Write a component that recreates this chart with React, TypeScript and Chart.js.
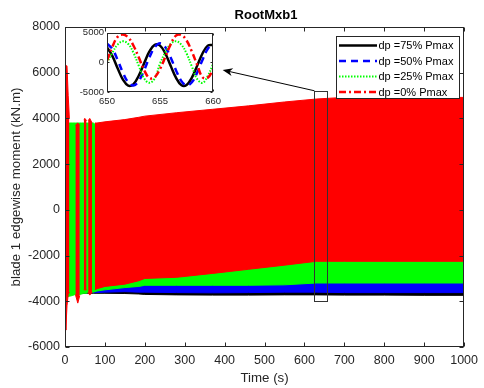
import React, { useEffect, useRef } from "react";
import { Chart, registerables } from "chart.js";
Chart.register(...registerables);

const FONT = "'Liberation Sans', Arial, Helvetica, sans-serif";
const AXIS = "#262626";

const TITLE = "RootMxb1";
const Y_LABEL = "blade 1 edgewise moment (kN.m)";
const X_LABEL = "Time (s)";
const SERIES_LABELS = ["dp =75% Pmax", "dp =50% Pmax", "dp =25% Pmax", "dp =0% Pmax"];
const SERIES_COLORS = ["#000000", "#0000ff", "#00ff00", "#ff0000"];

// Envelopes (upper / lower extent) of each dense oscillating series.
// null = the red series does not reach the outer band there (early transient columns).
const envT = [0, 2, 5, 8, 11, 18, 26, 32, 37, 42, 47, 50, 54, 56, 58, 62, 68, 71, 75, 80, 100, 150, 185, 200, 280, 370, 460, 550, 630, 700, 800, 900, 1000];
const redUpper = [6000, 6300, 6300, 5000, 4000, null, 3700, 3800, 3700, null, 3950, 4000, 3900, null, 3900, 4000, 3800, null, 3800, 3800, 3850, 3950, 4050, 4100, 4250, 4400, 4550, 4720, 4850, 4920, 4920, 4920, 4920];
const redLower = [-4000, -5260, -4200, -3700, -3600, null, -3700, -4080, -3750, null, -3500, -3500, -3500, null, -3600, -3730, -3600, null, -3500, -3450, -3350, -3250, -3100, -3000, -2950, -2780, -2600, -2420, -2250, -2250, -2250, -2250, -2250];
const greenUpper = [3000, 3800, 3800, 3800, 3800, 3800, 3800, 3800, 3800, 3800, 3800, 3800, 3800, 3800, 3800, 3800, 3800, 3800, 3750, 3750, 3750, 3800, 3900, 3950, 4100, 4250, 4400, 4550, 4650, 4700, 4700, 4700, 4700];
const greenLower = [-3000, -3800, -3820, -3800, -3780, -3750, -3700, -3700, -3700, -3680, -3650, -3650, -3650, -3620, -3620, -3620, -3600, -3600, -3580, -3550, -3500, -3400, -3350, -3300, -3300, -3300, -3300, -3280, -3200, -3200, -3200, -3200, -3200];
const blueUpper = [3000, 3600, 3600, 3600, 3600, 3600, 3600, 3600, 3600, 3600, 3600, 3600, 3600, 3600, 3600, 3600, 3600, 3600, 3600, 3600, 3550, 3600, 3700, 3750, 3900, 4000, 4100, 4200, 4300, 4350, 4350, 4350, 4350];
const blueLower = [-3000, -3700, -3750, -3700, -3650, -3620, -3620, -3620, -3620, -3620, -3620, -3620, -3620, -3620, -3620, -3620, -3620, -3620, -3620, -3620, -3600, -3580, -3600, -3600, -3620, -3630, -3620, -3600, -3600, -3620, -3620, -3620, -3620];
const blackUpper = [2500, 3400, 3500, 3450, 3400, 3400, 3400, 3400, 3400, 3400, 3400, 3400, 3400, 3400, 3400, 3400, 3400, 3400, 3400, 3400, 3350, 3400, 3500, 3550, 3700, 3800, 3900, 4000, 4100, 4150, 4150, 4150, 4150];
const blackLower = [-3000, -3650, -3700, -3680, -3650, -3650, -3650, -3650, -3650, -3650, -3650, -3650, -3650, -3650, -3650, -3650, -3650, -3650, -3650, -3650, -3650, -3660, -3680, -3700, -3720, -3730, -3730, -3720, -3720, -3730, -3730, -3740, -3740];

// Zoomed inset, 650 s to 660 s
const insetT = [650, 650.5, 651, 651.5, 652, 652.5, 653, 653.5, 654, 654.5, 655, 655.5, 656, 656.5, 657, 657.5, 658, 658.5, 659, 659.5, 660];
const insetBlack = [2500, 1100, -1000, -2900, -3920, -3660, -2220, -140, 1830, 2950, 2820, 1490, -570, -2580, -3820, -3820, -2580, -570, 1490, 2820, 2950];
const insetBlue = [3170, 2270, 410, -1730, -3360, -3890, -3120, -1320, 830, 2550, 3200, 2550, 830, -1320, -3120, -3890, -3360, -1730, 410, 2270, 3170];
const insetGreen = [-100, 1600, 3000, 3550, 3100, 1600, -600, -2700, -3450, -2700, -200, 1700, 3100, 3550, 3000, 1500, -700, -2800, -3450, -2300, -300];
const insetRed = [300, 2600, 4300, 4680, 4200, 2800, 800, -1300, -2650, -2500, -1100, 900, 3000, 4500, 4600, 3700, 1800, -400, -2500, -2600, -1200];

// Annotation (data units): zoom rectangle and arrow toward the inset
const ZOOM_RECT = { t0: 625, t1: 657, v0: -3990, v1: 5210 };
const ARROW_TIP = { t: 395, v: 6120 };
const ARROW_TAIL = { t: 625, v: 5210 };

const DASHES: number[][] = [[], [7, 5], [1.5, 1.5], [7, 3, 2, 3]];
const WIDTHS = [2.5, 2.5, 2, 2.5];

function drawFrame(chart: any, len: number) {
  const { ctx, chartArea: a, scales } = chart;
  ctx.save();
  ctx.strokeStyle = AXIS;
  ctx.lineWidth = 1;
  ctx.setLineDash([]);
  const L = Math.round(a.left) + 0.5, R = Math.round(a.right) - 0.5;
  const T = Math.round(a.top) + 0.5, B = Math.round(a.bottom) - 0.5;
  ctx.strokeRect(L, T, R - L, B - T);
  ctx.beginPath();
  scales.x.ticks.forEach((tk: any) => {
    const p = Math.round(scales.x.getPixelForValue(tk.value)) + 0.5;
    ctx.moveTo(p, B); ctx.lineTo(p, B - len);
    ctx.moveTo(p, T); ctx.lineTo(p, T + len);
  });
  scales.y.ticks.forEach((tk: any) => {
    const p = Math.round(scales.y.getPixelForValue(tk.value)) + 0.5;
    ctx.moveTo(L, p); ctx.lineTo(L + len, p);
    ctx.moveTo(R, p); ctx.lineTo(R - len, p);
  });
  ctx.stroke();
  ctx.restore();
}

const mainPlugin = {
  id: "mainDecor",
  beforeDraw(chart: any) {
    const { ctx, width, height } = chart;
    ctx.save();
    ctx.fillStyle = "#ffffff";
    ctx.fillRect(0, 0, width, height);
    ctx.restore();
  },
  afterDatasetsDraw(chart: any) {
    drawFrame(chart, 4);
    const { ctx, scales } = chart;
    const xs = scales.x, ys = scales.y;
    ctx.save();
    ctx.strokeStyle = "#333333";
    ctx.lineWidth = 1;
    const rx0 = Math.round(xs.getPixelForValue(ZOOM_RECT.t0)) + 0.5;
    const rx1 = Math.round(xs.getPixelForValue(ZOOM_RECT.t1)) + 0.5;
    const ry0 = Math.round(ys.getPixelForValue(ZOOM_RECT.v1)) + 0.5;
    const ry1 = Math.round(ys.getPixelForValue(ZOOM_RECT.v0)) + 0.5;
    ctx.strokeRect(rx0, ry0, rx1 - rx0, ry1 - ry0);
    const tx = xs.getPixelForValue(ARROW_TAIL.t), ty = ys.getPixelForValue(ARROW_TAIL.v);
    const hx = xs.getPixelForValue(ARROW_TIP.t), hy = ys.getPixelForValue(ARROW_TIP.v);
    const ang = Math.atan2(hy - ty, hx - tx);
    ctx.strokeStyle = "#000";
    ctx.beginPath();
    ctx.moveTo(tx, ty);
    ctx.lineTo(hx - 6 * Math.cos(ang), hy - 6 * Math.sin(ang));
    ctx.stroke();
    ctx.fillStyle = "#000";
    ctx.beginPath();
    ctx.moveTo(hx, hy);
    ctx.lineTo(hx - 10 * Math.cos(ang) + 4 * Math.sin(ang), hy - 10 * Math.sin(ang) - 4 * Math.cos(ang));
    ctx.lineTo(hx - 7 * Math.cos(ang), hy - 7 * Math.sin(ang));
    ctx.lineTo(hx - 10 * Math.cos(ang) - 4 * Math.sin(ang), hy - 10 * Math.sin(ang) + 4 * Math.cos(ang));
    ctx.closePath();
    ctx.fill();
    ctx.restore();
  },
  afterDraw(chart: any) {
    const { ctx } = chart;
    ctx.save();
    ctx.fillStyle = "#000";
    ctx.font = `bold 13px ${FONT}`;
    ctx.textAlign = "center";
    ctx.textBaseline = "middle";
    ctx.fillText(TITLE, 266, 15);
    ctx.fillStyle = "#fff";
    ctx.fillRect(336.5, 36.5, 123, 62);
    ctx.strokeStyle = AXIS;
    ctx.lineWidth = 1;
    ctx.strokeRect(336.5, 36.5, 123, 62);
    ctx.font = `11px ${FONT}`;
    ctx.textAlign = "left";
    SERIES_LABELS.forEach((lab, i) => {
      const y = 45.5 + i * 15.5;
      ctx.save();
      ctx.strokeStyle = SERIES_COLORS[i];
      ctx.lineWidth = WIDTHS[i];
      ctx.setLineDash(DASHES[i]);
      ctx.beginPath();
      ctx.moveTo(339, y);
      ctx.lineTo(377, y);
      ctx.stroke();
      ctx.restore();
      ctx.fillStyle = "#000";
      ctx.fillText(lab, 378.5, y + 0.5);
    });
    ctx.restore();
  },
};

const insetPlugin = {
  id: "insetDecor",
  beforeDatasetsDraw(chart: any) {
    const { ctx, chartArea: a } = chart;
    ctx.save();
    ctx.fillStyle = "#fff";
    ctx.fillRect(a.left, a.top, a.right - a.left, a.bottom - a.top);
    ctx.restore();
  },
  afterDatasetsDraw(chart: any) {
    drawFrame(chart, 2);
  },
};

export default function App() {
  const mainRef = useRef<HTMLCanvasElement>(null);
  const insetRef = useRef<HTMLCanvasElement>(null);

  useEffect(() => {
    const bands = [
      { color: SERIES_COLORS[3], upper: redUpper, lower: redLower, order: 1 },
      { color: SERIES_COLORS[2], upper: greenUpper, lower: greenLower, order: 2 },
      { color: SERIES_COLORS[1], upper: blueUpper, lower: blueLower, order: 3 },
      { color: SERIES_COLORS[0], upper: blackUpper, lower: blackLower, order: 4 },
    ];
    const datasets: any[] = [];
    bands.forEach((b) => {
      datasets.push({
        data: envT.map((t, i) => ({ x: t, y: b.upper[i] })),
        borderColor: b.color,
        backgroundColor: b.color,
        borderWidth: 1,
        pointRadius: 0,
        tension: 0,
        spanGaps: false,
        fill: "+1",
        order: b.order,
      });
      datasets.push({
        data: envT.map((t, i) => ({ x: t, y: b.lower[i] })),
        borderColor: b.color,
        backgroundColor: b.color,
        borderWidth: 1,
        pointRadius: 0,
        tension: 0,
        spanGaps: false,
        fill: false,
        order: b.order,
      });
    });

    const tickFont = { family: FONT, size: 12.5 };
    const main = new Chart(mainRef.current as HTMLCanvasElement, {
      type: "line",
      data: { datasets },
      plugins: [mainPlugin],
      options: {
        animation: false,
        responsive: false,
        devicePixelRatio: 1,
        layout: { padding: { top: 27, right: 14, left: 0, bottom: 0 } },
        plugins: { legend: { display: false }, tooltip: { enabled: false }, title: { display: false } },
        scales: {
          x: {
            type: "linear",
            min: 0,
            max: 1000,
            afterFit: (s: any) => { s.height = 41; },
            grid: { display: false, drawTicks: false },
            border: { display: false },
            ticks: { stepSize: 100, autoSkip: false, maxRotation: 0, padding: 6, color: AXIS, font: tickFont, callback: (v: any) => String(v) },
            title: { display: true, text: X_LABEL, color: AXIS, font: { family: FONT, size: 13.3 }, padding: { top: 0, bottom: 2 } },
          },
          y: {
            type: "linear",
            min: -6000,
            max: 8000,
            afterFit: (s: any) => { s.width = 65; },
            grid: { display: false, drawTicks: false },
            border: { display: false },
            ticks: { stepSize: 2000, autoSkip: false, padding: 5, color: AXIS, font: tickFont, callback: (v: any) => String(v) },
            title: { display: true, text: Y_LABEL, color: AXIS, font: { family: FONT, size: 13.3 }, padding: { top: 8, bottom: 0 } },
          },
        },
      } as any,
    });

    const insetSeries = [
      { data: insetRed, i: 3, order: 1 },
      { data: insetGreen, i: 2, order: 2 },
      { data: insetBlue, i: 1, order: 3 },
      { data: insetBlack, i: 0, order: 4 },
    ];
    const insetFont = { family: FONT, size: 9.5 };
    const inset = new Chart(insetRef.current as HTMLCanvasElement, {
      type: "line",
      data: {
        datasets: insetSeries.map((s) => ({
          data: insetT.map((t, k) => ({ x: t, y: s.data[k] })),
          borderColor: SERIES_COLORS[s.i],
          borderWidth: WIDTHS[s.i],
          borderDash: DASHES[s.i],
          pointRadius: 0,
          tension: 0.4,
          fill: false,
          order: s.order,
        })),
      },
      plugins: [insetPlugin],
      options: {
        animation: false,
        responsive: false,
        devicePixelRatio: 1,
        layout: { padding: { top: 6, right: 10, left: 0, bottom: 0 } },
        plugins: { legend: { display: false }, tooltip: { enabled: false }, title: { display: false } },
        scales: {
          x: {
            type: "linear",
            min: 650,
            max: 660,
            afterFit: (s: any) => { s.height = 20; },
            grid: { display: false, drawTicks: false },
            border: { display: false },
            ticks: { stepSize: 5, autoSkip: false, maxRotation: 0, padding: 4, color: AXIS, font: insetFont, callback: (v: any) => String(v) },
          },
          y: {
            type: "linear",
            min: -5000,
            max: 5000,
            afterFit: (s: any) => { s.width = 32; },
            grid: { display: false, drawTicks: false },
            border: { display: false },
            ticks: { stepSize: 5000, autoSkip: false, padding: 3, color: AXIS, font: insetFont, callback: (v: any) => String(v) },
          },
        },
      } as any,
    });

    return () => {
      main.destroy();
      inset.destroy();
    };
  }, []);

  return (
    <div style={{ position: "fixed", left: 0, top: 0, width: 484, height: 388, background: "#fff" }}>
      <canvas ref={mainRef} width={484} height={388} style={{ position: "absolute", left: 0, top: 0, width: 484, height: 388 }} />
      <canvas ref={insetRef} width={150} height={88} style={{ position: "absolute", left: 75, top: 24, width: 150, height: 88 }} />
    </div>
  );
}
